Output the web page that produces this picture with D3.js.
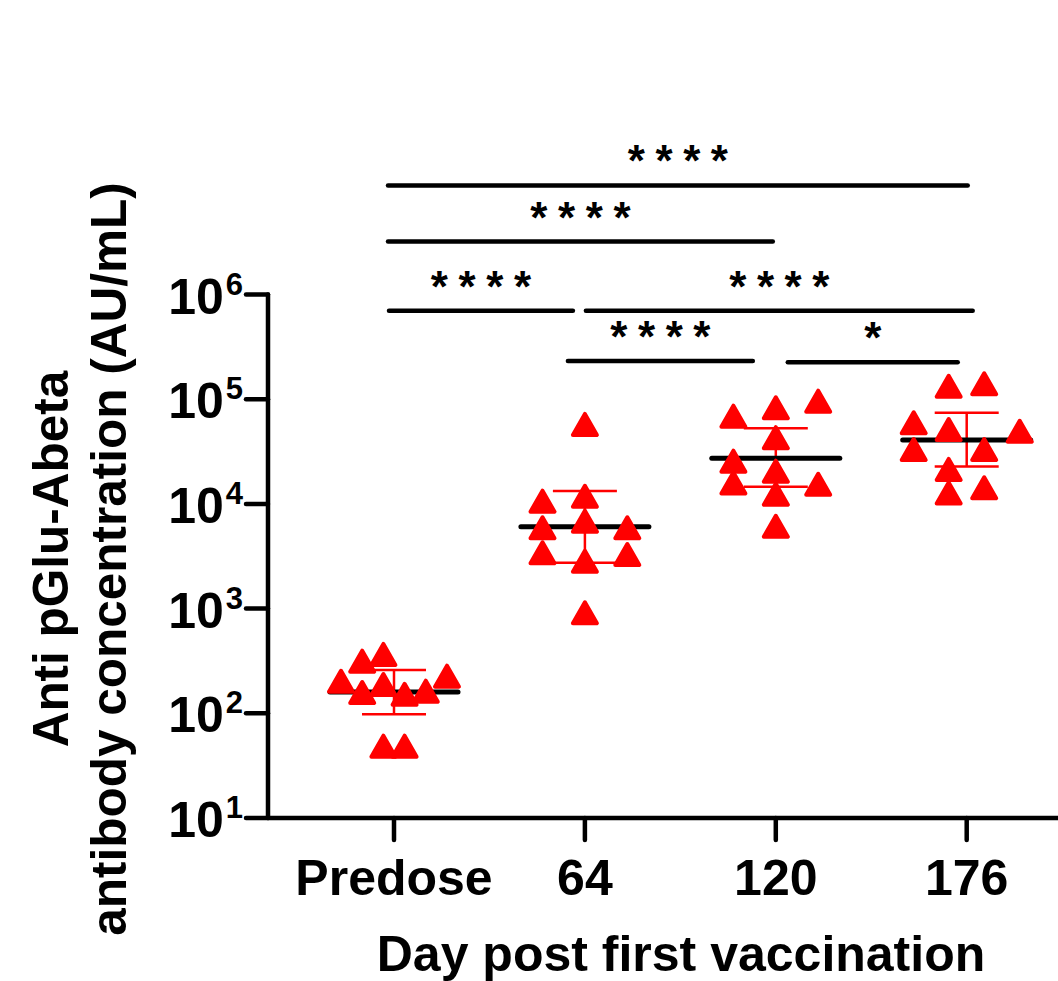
<!DOCTYPE html>
<html>
<head>
<meta charset="utf-8">
<script src="https://cdn.jsdelivr.net/npm/d3@7.9.0/dist/d3.min.js"></script>
<style>
  body { margin: 0; background: #fff; }
  svg { display: block; font-family: Arial, "Liberation Sans", Helvetica, sans-serif; }
</style>
</head>
<body>
<div id="chart"></div>
<script>
// groups on the x axis
const groups = ['Predose', '64', '120', '176'];

// antibody titres (AU/mL), one array per group
const predoseValues = [200, 311, 361, 156, 186, 150, 161, 224, 48, 48];
const day64Values = [56800, 10500, 11700, 5850, 6760, 5850, 3370, 2800, 3250, 902];
const day120Values = [68100, 81900, 94700, 42400, 25300, 20300, 15700, 12200, 15200, 6050];
const day176Values = [131500, 138700, 58900, 50800, 48900, 32700, 32700, 21100, 12600, 14100];

// horizontal spread of each point inside its column (-1 .. 1)
const predoseSpread = [-1, -0.6, -0.2, -0.6, -0.2, 0.2, 0.6, 1, -0.2, 0.2];
const day64Spread = [0, -0.8, 0, -0.8, 0, 0.8, -0.8, 0, 0.8, 0];
const day120Spread = [-0.8, 0, 0.8, 0, -0.8, 0, -0.8, 0, 0.8, 0];
const day176Spread = [-0.34, 0.33, -1, -0.34, 1, -1, 0.33, -0.34, -0.34, 0.33];

// summary lines: centre and error bar limits
const groupMean = [160, 6050, 27300, 40700];
const groupUpper = [259, 13280, 52700, 74300];
const groupLower = [98, 2740, 14600, 22700];

// y axis ticks
const yTicks = [10, 100, 1000, 10000, 100000, 1000000];

// significance comparisons: from, to, stars, bracket height (AU/mL)
const compFrom = ['Predose', 'Predose', 'Predose', '64', '64', '120'];
const compTo = ['176', '120', '64', '176', '120', '176'];
const compStars = ['****', '****', '****', '****', '****', '*'];
const compLevel = [1.1e7, 3.2e6, 7.0e5, 7.0e5, 2.32e5, 2.25e5];
// end trims of each bracket line (px), left / right
const compTrimL = [-6, -6, -5, 1, -17, 12];
const compTrimR = [1, -3, -12, 6, -23, -9];

const valueSets = [predoseValues, day64Values, day120Values, day176Values];
const spreadSets = [predoseSpread, day64Spread, day120Spread, day176Spread];

const points = [];
groups.forEach((g, gi) => {
  valueSets[gi].forEach((v, i) => points.push({ group: g, value: v, spread: spreadSets[gi][i] }));
});

const width = 1058, height = 981;
const svg = d3.select('#chart').append('svg')
  .attr('width', width)
  .attr('height', height);

const y = d3.scaleLog().domain([10, 1e6]).range([818, 294.5]);
const x = d3.scalePoint().domain(groups).range([394, 966.7]);
const spreadX = d3.scaleLinear().domain([-1, 1]).range([-53, 53]);

const axisX0 = 268;
const red = '#ff0000';

// y axis
const yAxis = svg.append('g');
yAxis.append('line')
  .attr('x1', axisX0).attr('x2', axisX0)
  .attr('y1', y(1e6)).attr('y2', y(10))
  .attr('stroke', '#000').attr('stroke-width', 4.5).attr('stroke-linecap', 'round');
yAxis.selectAll('line.tick')
  .data(yTicks)
  .enter().append('line')
  .attr('class', 'tick')
  .attr('x1', axisX0 - 22).attr('x2', axisX0)
  .attr('y1', d => y(d)).attr('y2', d => y(d))
  .attr('stroke', '#000').attr('stroke-width', 4.5).attr('stroke-linecap', 'round');

const yLabels = yAxis.selectAll('text.tick')
  .data(yTicks)
  .enter().append('text')
  .attr('class', 'tick')
  .attr('x', axisX0 - 25)
  .attr('y', d => y(d) + 19)
  .attr('text-anchor', 'end')
  .attr('font-weight', 'bold')
  .attr('font-size', 50);
yLabels.append('tspan').text('10');
yLabels.append('tspan')
  .attr('font-size', 31)
  .attr('dx', 2)
  .attr('dy', -19)
  .text(d => Math.round(Math.log10(d)));

// x axis
const xAxis = svg.append('g');
xAxis.append('line')
  .attr('x1', axisX0).attr('x2', width + 10)
  .attr('y1', y(10)).attr('y2', y(10))
  .attr('stroke', '#000').attr('stroke-width', 4.5).attr('stroke-linecap', 'round');
xAxis.selectAll('line.tick')
  .data(groups)
  .enter().append('line')
  .attr('class', 'tick')
  .attr('x1', d => x(d)).attr('x2', d => x(d))
  .attr('y1', y(10)).attr('y2', y(10) + 22)
  .attr('stroke', '#000').attr('stroke-width', 4.5).attr('stroke-linecap', 'round');
xAxis.selectAll('text.tick')
  .data(groups)
  .enter().append('text')
  .attr('class', 'tick')
  .attr('x', d => x(d))
  .attr('y', 895)
  .attr('text-anchor', 'middle')
  .attr('font-weight', 'bold')
  .attr('font-size', 50)
  .text(d => d);

// axis titles
svg.append('text')
  .attr('x', 681)
  .attr('y', 971)
  .attr('text-anchor', 'middle')
  .attr('font-weight', 'bold')
  .attr('font-size', 50)
  .text('Day post first vaccination');

const yTitle = svg.append('text')
  .attr('transform', 'translate(0,559) rotate(-90)')
  .attr('text-anchor', 'middle')
  .attr('font-weight', 'bold')
  .attr('font-size', 49.5);
yTitle.append('tspan').attr('x', 0).attr('y', 68).text('Anti pGlu-Abeta');
yTitle.append('tspan').attr('x', 0).attr('y', 126).text('antibody concentration (AU/mL)');

// error bars
const bars = svg.append('g')
  .attr('stroke', red).attr('stroke-width', 2.5).attr('fill', 'none');
groups.forEach((g, gi) => {
  const cx = x(g);
  bars.append('line')
    .attr('x1', cx).attr('x2', cx)
    .attr('y1', y(groupUpper[gi])).attr('y2', y(groupLower[gi]));
  [groupUpper[gi], groupLower[gi]].forEach(v => {
    bars.append('line')
      .attr('x1', cx - 32).attr('x2', cx + 32)
      .attr('y1', y(v)).attr('y2', y(v));
  });
});

// mean lines
svg.append('g').selectAll('line')
  .data(groups)
  .enter().append('line')
  .attr('x1', d => x(d) - 64).attr('x2', d => x(d) + 64)
  .attr('y1', (d, i) => y(groupMean[i])).attr('y2', (d, i) => y(groupMean[i]))
  .attr('stroke', '#000').attr('stroke-width', 5).attr('stroke-linecap', 'round');

// triangles
const tri = 'M0,-11L12,10L-12,10Z';
svg.append('g').selectAll('path')
  .data(points)
  .enter().append('path')
  .attr('d', tri)
  .attr('transform', d => `translate(${x(d.group) + spreadX(d.spread)},${y(d.value)})`)
  .attr('fill', red)
  .attr('stroke', red)
  .attr('stroke-width', 4)
  .attr('stroke-linejoin', 'round');

// significance brackets
const sig = svg.append('g');
compFrom.forEach((from, i) => {
  const x1 = x(from) + compTrimL[i];
  const x2 = x(compTo[i]) + compTrimR[i];
  const ly = y(compLevel[i]);
  sig.append('line')
    .attr('x1', x1).attr('x2', x2)
    .attr('y1', ly).attr('y2', ly)
    .attr('stroke', '#000').attr('stroke-width', 4.5).attr('stroke-linecap', 'round');
  const n = compStars[i].length;
  const mid = (x1 + x2) / 2;
  sig.selectAll(null)
    .data(compStars[i].split(''))
    .enter().append('text')
    .attr('x', (d, k) => mid + (k - (n - 1) / 2) * 27.7)
    .attr('y', ly - 9)
    .attr('text-anchor', 'middle')
    .attr('font-weight', 'bold')
    .attr('font-size', 44)
    .text(d => d);
});
</script>
</body>
</html>
